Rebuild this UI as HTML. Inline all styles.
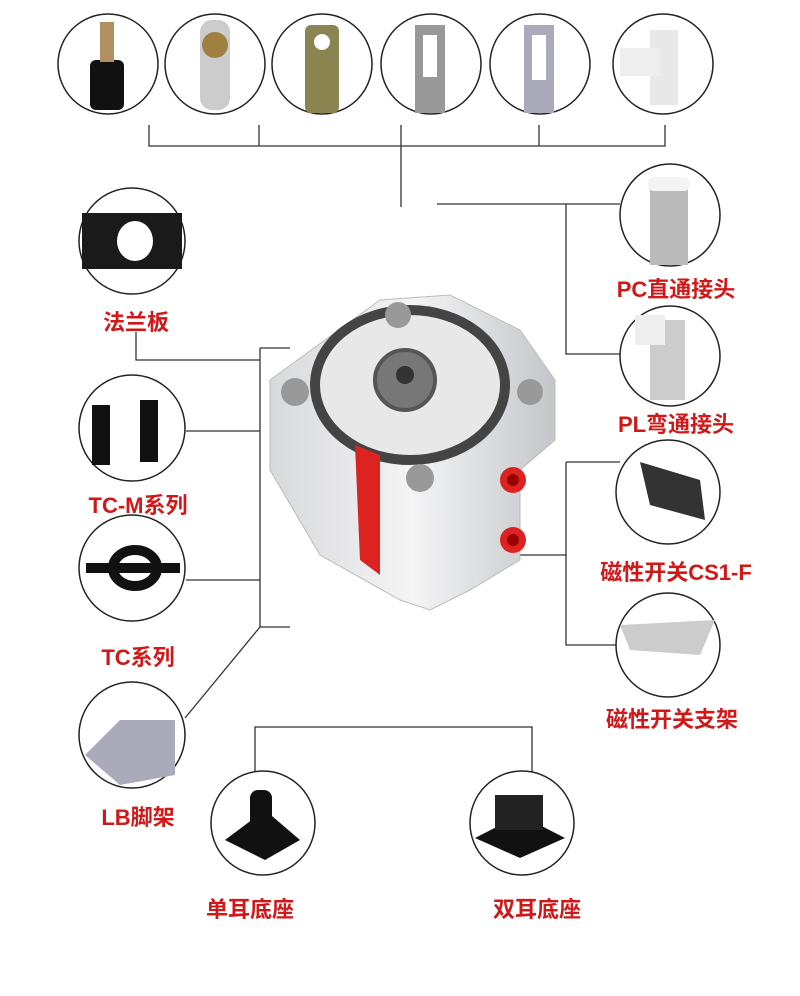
<!DOCTYPE html>
<html><head><meta charset="utf-8"><style>
body{margin:0;background:#fff;}
.l{position:absolute;font-family:"Liberation Sans","Noto Sans CJK SC",sans-serif;font-weight:bold;color:#d01818;font-size:22px;white-space:nowrap;transform:translateX(-50%);}
</style></head><body>
<div style="position:relative;width:800px;height:996px;overflow:hidden">
<svg width="800" height="996" style="position:absolute;left:0;top:0">
<defs>
<linearGradient id="al" x1="0" x2="1"><stop offset="0" stop-color="#d8d9db"/><stop offset=".5" stop-color="#f4f4f5"/><stop offset="1" stop-color="#c4c6c9"/></linearGradient>
<radialGradient id="gr"><stop offset="0" stop-color="#eee"/><stop offset="1" stop-color="#bbb"/></radialGradient>
</defs>
<g stroke="#333" stroke-width="1.3" fill="none">
<path d="M149 125V146H665V125M259 125V146M401 125V207M539 125V146"/>
<path d="M437 204H620M566 204V354H620"/>
<path d="M136 332V360H260M260 348H290M260 348V627H290M186 431H260M186 580H260M260 627L185 718"/>
<path d="M566 462H620M566 462V645H620M520 555H566"/>
<path d="M255 773V727H532V773"/>
</g>
<!-- cylinder -->
<g>
<polygon points="270,380 380,300 450,295 520,330 555,380 555,440 520,470 520,560 470,590 430,610 400,600 320,555 270,470" fill="url(#al)" stroke="#bbb"/>
<ellipse cx="410" cy="385" rx="95" ry="75" fill="#e8e8e9" stroke="#444" stroke-width="10"/>
<ellipse cx="405" cy="380" rx="30" ry="30" fill="#777" stroke="#555" stroke-width="4"/>
<circle cx="405" cy="375" r="9" fill="#333"/>
<circle cx="295" cy="392" r="14" fill="#999"/><circle cx="398" cy="315" r="13" fill="#999"/>
<circle cx="530" cy="392" r="13" fill="#999"/><circle cx="420" cy="478" r="14" fill="#999"/>
<polygon points="355,445 380,455 380,575 360,560" fill="#d22"/>
<circle cx="513" cy="480" r="13" fill="#d22"/><circle cx="513" cy="540" r="13" fill="#d22"/>
<circle cx="513" cy="480" r="6" fill="#900"/><circle cx="513" cy="540" r="6" fill="#900"/>
</g>
<g stroke="#222" stroke-width="1.5">
<ellipse cx="108" cy="64" rx="50" ry="50" fill="#fff"/>
<ellipse cx="215" cy="64" rx="50" ry="50" fill="#fff"/>
<ellipse cx="322" cy="64" rx="50" ry="50" fill="#fff"/>
<ellipse cx="431" cy="64" rx="50" ry="50" fill="#fff"/>
<ellipse cx="540" cy="64" rx="50" ry="50" fill="#fff"/>
<ellipse cx="663" cy="64" rx="50" ry="50" fill="#fff"/>
<ellipse cx="670" cy="215" rx="50" ry="51" fill="#fff"/>
<ellipse cx="670" cy="356" rx="50" ry="50" fill="#fff"/>
<ellipse cx="132" cy="241" rx="53" ry="53" fill="#fff"/>
<ellipse cx="132" cy="428" rx="53" ry="53" fill="#fff"/>
<ellipse cx="132" cy="568" rx="53" ry="53" fill="#fff"/>
<ellipse cx="132" cy="735" rx="53" ry="53" fill="#fff"/>
<ellipse cx="263" cy="823" rx="52" ry="52" fill="#fff"/>
<ellipse cx="522" cy="823" rx="52" ry="52" fill="#fff"/>
<ellipse cx="668" cy="492" rx="52" ry="52" fill="#fff"/>
<ellipse cx="668" cy="645" rx="52" ry="52" fill="#fff"/>
</g>
<!-- contents -->
<g stroke="none">
<rect x="90" y="60" width="34" height="50" rx="6" fill="#111"/><rect x="100" y="22" width="14" height="40" fill="#b09060"/>
<rect x="200" y="20" width="30" height="90" rx="12" fill="#ccc"/><circle cx="215" cy="45" r="13" fill="#a08040"/>
<rect x="305" y="25" width="34" height="88" rx="6" fill="#8a8550"/><circle cx="322" cy="42" r="8" fill="#fff"/>
<rect x="415" y="25" width="30" height="88" fill="#999"/><rect x="423" y="35" width="14" height="42" fill="#fff"/>
<rect x="524" y="25" width="30" height="88" fill="#aab"/><rect x="532" y="35" width="14" height="45" fill="#fff"/>
<rect x="650" y="30" width="28" height="75" fill="#e8e8e8"/><rect x="620" y="48" width="40" height="28" fill="#eee"/>
<rect x="650" y="180" width="38" height="85" fill="#bbb"/><rect x="648" y="177" width="42" height="14" rx="6" fill="#f4f4f4"/>
<rect x="650" y="320" width="35" height="80" fill="#ccc"/><rect x="635" y="315" width="30" height="30" fill="#eee"/>
<rect x="82" y="213" width="100" height="56" fill="#1a1a1a"/><ellipse cx="135" cy="241" rx="18" ry="20" fill="#fff"/>
<rect x="92" y="405" width="18" height="60" fill="#111"/><rect x="140" y="400" width="18" height="62" fill="#111"/>
<ellipse cx="135" cy="568" rx="22" ry="18" fill="none" stroke="#111" stroke-width="10"/><rect x="86" y="563" width="94" height="10" fill="#111"/>
<polygon points="85,755 120,720 175,720 175,775 120,785" fill="#aab"/>
<polygon points="225,840 265,810 300,840 265,860" fill="#111"/><rect x="250" y="790" width="22" height="45" rx="8" fill="#111"/>
<polygon points="475,838 520,815 565,838 520,858" fill="#111"/><rect x="495" y="795" width="48" height="35" fill="#222"/>
<polygon points="640,462 700,480 705,520 650,505" fill="#333"/>
<polygon points="620,625 715,620 700,655 630,650" fill="#ccc"/>
</g>
</svg>
<div class="l" style="left:676px;top:272px">PC直通接头</div>
<div class="l" style="left:676px;top:407px">PL弯通接头</div>
<div class="l" style="left:136px;top:305px">法兰板</div>
<div class="l" style="left:138px;top:488px">TC-M系列</div>
<div class="l" style="left:138px;top:640px">TC系列</div>
<div class="l" style="left:138px;top:800px">LB脚架</div>
<div class="l" style="left:676px;top:555px">磁性开关CS1-F</div>
<div class="l" style="left:672px;top:702px">磁性开关支架</div>
<div class="l" style="left:250px;top:892px">单耳底座</div>
<div class="l" style="left:537px;top:892px">双耳底座</div>
</div>
</body></html>
